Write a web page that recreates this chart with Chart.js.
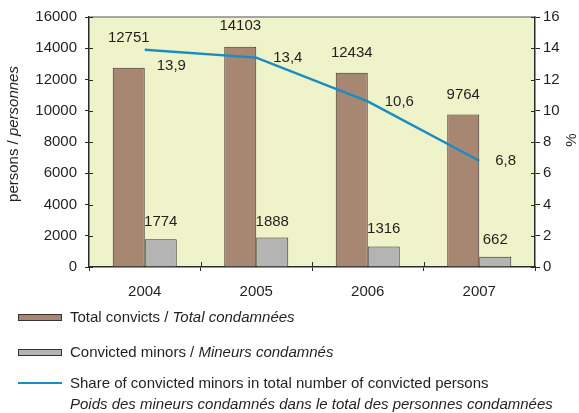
<!DOCTYPE html>
<html lang="en">
  <head>
    <meta charset="UTF-8" />
    <title>Convicted persons</title>
    <style>
      body {
        margin: 0;
        background: #ffffff;
        font-family: "Liberation Sans", Arial, sans-serif;
      }
      .wrap {
        position: relative;
        width: 579px;
        height: 413px;
      }
      canvas {
        position: absolute;
        left: 0;
        top: 0;
      }
      .legend-row {
        position: absolute;
        left: 18px;
        height: 18px;
        font-size: 15px;
        line-height: 18px;
        color: #231f20;
        display: flex;
        align-items: center;
        white-space: nowrap;
      }
      .sw {
        width: 44px;
        height: 7px;
        border: 1px solid #3a3330;
        box-sizing: border-box;
        margin-right: 8px;
      }
      .ln {
        width: 44px;
        height: 2px;
        margin-right: 8px;
      }
      .sub {
        position: absolute;
        left: 70px;
        font-size: 15px;
        line-height: 18px;
        color: #231f20;
        font-style: italic;
        white-space: nowrap;
      }
    </style>
  </head>
  <body>
    <div class="wrap">
      <canvas id="chart" width="579" height="413"></canvas>
      <div class="legend-row" style="top: 308px">
        <div class="sw" style="background: #a78672"></div>
        <span>Total convicts / <i>Total condamnées</i></span>
      </div>
      <div class="legend-row" style="top: 343px">
        <div class="sw" style="background: #b4b4b4"></div>
        <span>Convicted minors / <i>Mineurs condamnés</i></span>
      </div>
      <div class="legend-row" style="top: 374px">
        <div class="ln" style="background: #1a8cc4"></div>
        <span>Share of convicted minors in total number of convicted persons</span>
      </div>
      <div class="sub" style="top: 395px">Poids des mineurs condamnés dans le total des personnes condamnées</div>
    </div>

    <script src="https://cdn.jsdelivr.net/npm/chart.js"></script>
    <script>
      var years = ["2004", "2005", "2006", "2007"];
      var totalConvicts = [12751, 14103, 12434, 9764];
      var convictedMinors = [1774, 1888, 1316, 662];
      var minorShare = [13.9, 13.4, 10.6, 6.8]; // percent

      var personsMax = 16000;
      var personsStep = 2000;
      var shareMax = 16;
      var shareStep = 2;

      var textColor = "#231f20";
      var axisColor = "#2b2b2b";
      var fontFamily = "'Liberation Sans', Arial, sans-serif";
      var fontSize = 15;

      // how far above each bar its value sits
      var totalLift = [30, 21, 20, 20];
      var minorLift = [17, 16, 18, 17];
      // where the share labels sit relative to the line points
      var shareDx = [12, 17, 17, 16];
      var shareDy = [16, 0, 0, 0];

      function fmtShare(v) {
        return v.toFixed(1).replace(".", ",");
      }

      var decor = {
        id: "decor",
        beforeDraw: function (chart) {
          var a = chart.chartArea;
          var ctx = chart.ctx;
          ctx.save();
          ctx.fillStyle = "#eef3c9";
          ctx.fillRect(a.left, a.top, a.right - a.left, a.bottom - a.top);
          ctx.restore();
        },
        afterDatasetsDraw: function (chart) {
          var ctx = chart.ctx;
          ctx.save();
          ctx.fillStyle = textColor;
          ctx.font = fontSize + "px " + fontFamily;
          ctx.textBaseline = "middle";

          ctx.textAlign = "center";
          chart.getDatasetMeta(0).data.forEach(function (bar, i) {
            ctx.fillText(String(totalConvicts[i]), bar.x, bar.y - totalLift[i]);
          });
          chart.getDatasetMeta(1).data.forEach(function (bar, i) {
            ctx.fillText(String(convictedMinors[i]), bar.x, bar.y - minorLift[i]);
          });

          ctx.textAlign = "left";
          chart.getDatasetMeta(2).data.forEach(function (pt, i) {
            ctx.fillText(fmtShare(minorShare[i]), pt.x + shareDx[i], pt.y + shareDy[i]);
          });
          ctx.restore();
        },
        afterDraw: function (chart) {
          var a = chart.chartArea;
          var ctx = chart.ctx;
          ctx.save();

          // grey frame line on top of the plot
          ctx.strokeStyle = "#8a8a8a";
          ctx.lineWidth = 1.5;
          ctx.beginPath();
          ctx.moveTo(a.left, a.top);
          ctx.lineTo(a.right, a.top);
          ctx.stroke();

          // tick marks also poke into the plot area
          ctx.strokeStyle = axisColor;
          ctx.lineWidth = 1;
          var ys = chart.scales.y;
          ys.ticks.forEach(function (t, i) {
            var py = Math.round(ys.getPixelForTick(i)) + 0.5;
            ctx.beginPath();
            ctx.moveTo(a.left, py);
            ctx.lineTo(a.left + 4, py);
            ctx.stroke();
          });
          var y1 = chart.scales.y1;
          y1.ticks.forEach(function (t, i) {
            var py = Math.round(y1.getPixelForTick(i)) + 0.5;
            ctx.beginPath();
            ctx.moveTo(a.right - 4, py);
            ctx.lineTo(a.right, py);
            ctx.stroke();
          });
          var xs = chart.scales.x;
          var half = (xs.getPixelForValue(1) - xs.getPixelForValue(0)) / 2;
          for (var i = 1; i < years.length; i++) {
            var px = Math.round(xs.getPixelForValue(i) - half) + 0.5;
            ctx.beginPath();
            ctx.moveTo(px, a.bottom - 5);
            ctx.lineTo(px, a.bottom);
            ctx.stroke();
          }

          // left axis title: "persons / personnes"
          ctx.fillStyle = textColor;
          ctx.textBaseline = "middle";
          ctx.textAlign = "left";
          var part1 = "persons / ";
          var part2 = "personnes";
          ctx.font = fontSize + "px " + fontFamily;
          var w1 = ctx.measureText(part1).width;
          ctx.font = "italic " + fontSize + "px " + fontFamily;
          var w2 = ctx.measureText(part2).width;
          ctx.translate(14, 134);
          ctx.rotate(-Math.PI / 2);
          ctx.font = fontSize + "px " + fontFamily;
          ctx.fillText(part1, -(w1 + w2) / 2, 0);
          ctx.font = "italic " + fontSize + "px " + fontFamily;
          ctx.fillText(part2, -(w1 + w2) / 2 + w1, 0);
          ctx.restore();

          // right axis title
          ctx.save();
          ctx.fillStyle = textColor;
          ctx.font = fontSize + "px " + fontFamily;
          ctx.textAlign = "center";
          ctx.textBaseline = "middle";
          ctx.translate(572, 140);
          ctx.rotate(-Math.PI / 2);
          ctx.fillText("%", 0, 0);
          ctx.restore();
        },
      };

      var tickFont = { family: fontFamily, size: fontSize };

      new Chart(document.getElementById("chart"), {
        type: "bar",
        data: {
          labels: years,
          datasets: [
            {
              label: "Total convicts / Total condamnées",
              data: totalConvicts,
              backgroundColor: "#a78672",
              borderColor: "#3a3330",
              borderWidth: 1,
              yAxisID: "y",
              order: 1,
            },
            {
              label: "Convicted minors / Mineurs condamnés",
              data: convictedMinors,
              backgroundColor: "#b4b4b4",
              borderColor: "#3a3330",
              borderWidth: 1,
              yAxisID: "y",
              order: 1,
            },
            {
              type: "line",
              label: "Share of convicted minors in total number of convicted persons",
              data: minorShare,
              borderColor: "#1a8cc4",
              borderWidth: 2.5,
              pointRadius: 0,
              tension: 0,
              yAxisID: "y1",
              order: 0,
            },
          ],
        },
        options: {
          responsive: false,
          animation: false,
          categoryPercentage: 0.574,
          barPercentage: 1,
          layout: { padding: { top: 16, left: 0, right: 0, bottom: 116 } },
          plugins: {
            legend: { display: false },
            tooltip: { enabled: false },
          },
          scales: {
            x: {
              offset: true,
              grid: {
                offset: true,
                drawOnChartArea: false,
                tickLength: 4,
                color: axisColor,
              },
              border: { color: axisColor, width: 1.5 },
              ticks: { font: tickFont, color: textColor, padding: 12 },
              afterFit: function (s) {
                s.height = 30;
              },
            },
            y: {
              position: "left",
              min: 0,
              max: personsMax,
              grid: { drawOnChartArea: false, tickLength: 4, color: axisColor },
              border: { color: axisColor, width: 1.5 },
              ticks: {
                stepSize: personsStep,
                font: tickFont,
                color: textColor,
                padding: 8,
                callback: function (v) {
                  return String(v);
                },
              },
              afterFit: function (s) {
                s.width = 89;
              },
            },
            y1: {
              position: "right",
              min: 0,
              max: shareMax,
              grid: { drawOnChartArea: false, tickLength: 5, color: axisColor },
              border: { color: axisColor, width: 1.5 },
              ticks: {
                stepSize: shareStep,
                font: tickFont,
                color: textColor,
                padding: 3,
                callback: function (v) {
                  return String(v);
                },
              },
              afterFit: function (s) {
                s.width = 44;
              },
            },
          },
        },
        plugins: [decor],
      });
    </script>
  </body>
</html>
